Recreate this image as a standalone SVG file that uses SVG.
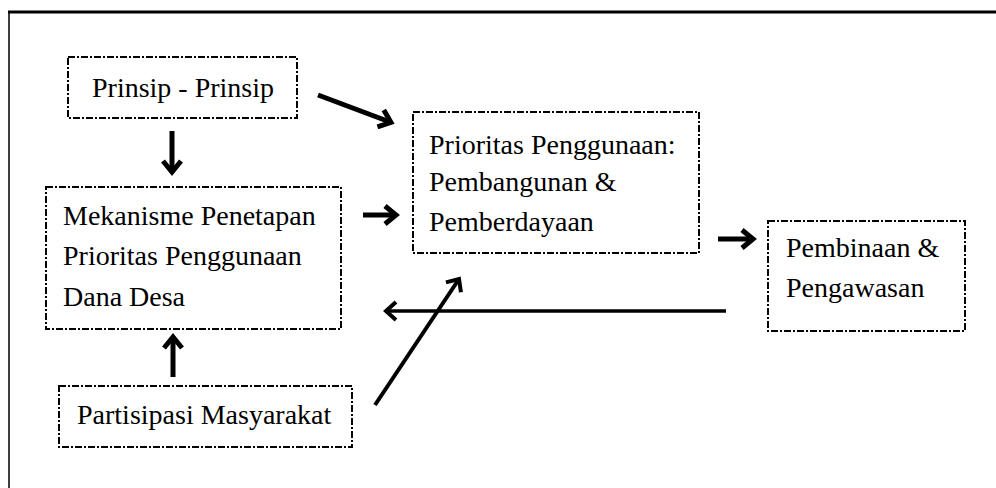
<svg xmlns="http://www.w3.org/2000/svg" width="996" height="488" viewBox="0 0 996 488">
<style>
.box{fill:none;stroke:#000;stroke-width:2;stroke-dasharray:7 2 2 2}
text{font-family:'Liberation Serif','Times New Roman',serif;font-size:28px;fill:#000}
.c{fill:none;stroke:#000;stroke-width:5;stroke-linecap:butt}
.thin{fill:none;stroke:#000;stroke-width:3.5}
</style>
<defs>
<marker id="ah" markerUnits="userSpaceOnUse" markerWidth="22" markerHeight="22" refX="13" refY="11" orient="auto" viewBox="0 0 22 22">
<path d="M3 2 L14 11 L3 20" fill="none" stroke="#000" stroke-width="5" stroke-linejoin="miter"/>
</marker>
<marker id="ah2" markerUnits="userSpaceOnUse" markerWidth="22" markerHeight="22" refX="14" refY="11" orient="auto" viewBox="0 0 22 22">
<path d="M4 2 L14 11 L4 20" fill="none" stroke="#000" stroke-width="4" stroke-linejoin="miter"/>
</marker>
</defs>
<rect width="996" height="488" fill="#fff"/>
<g id="frame">
<line x1="8" y1="12" x2="996" y2="12" stroke="#000" stroke-width="3"/>
<line x1="9" y1="11" x2="9" y2="488" stroke="#000" stroke-width="1.5"/>
</g>
<g id="n1">
<rect class="box" x="68" y="57" width="229" height="61"/>
<text x="183" y="97" text-anchor="middle">Prinsip - Prinsip</text>
</g>
<g id="n2">
<rect class="box" x="46" y="187" width="295" height="142"/>
<text x="63" y="225">Mekanisme Penetapan</text>
<text x="63" y="265">Prioritas Penggunaan</text>
<text x="63" y="306">Dana Desa</text>
</g>
<g id="n3">
<rect class="box" x="59" y="386" width="293" height="61"/>
<text x="77" y="424">Partisipasi Masyarakat</text>
</g>
<g id="n4">
<rect class="box" x="413" y="112" width="286" height="141"/>
<text x="429" y="154">Prioritas Penggunaan:</text>
<text x="429" y="191">Pembangunan &amp;</text>
<text x="429" y="231">Pemberdayaan</text>
</g>
<g id="n5">
<rect class="box" x="768" y="221" width="197" height="110"/>
<text x="786" y="257">Pembinaan &amp;</text>
<text x="786" y="297">Pengawasan</text>
</g>
<g id="connectors">
<path class="c" d="M318 95 L390 122" marker-end="url(#ah)"/>
<path class="c" d="M172 131 L172 171" marker-end="url(#ah)"/>
<path class="c" d="M363 215 L395 215" marker-end="url(#ah)"/>
<path class="c" d="M173 377 L173 338" marker-end="url(#ah)"/>
<path class="c" d="M718 239 L752 239" marker-end="url(#ah)"/>
<path class="thin" d="M726 311 L386 311" marker-end="url(#ah2)"/>
<path class="c" style="stroke-width:4" d="M375 405 L459 279" marker-end="url(#ah2)"/>
</g>
</svg>
